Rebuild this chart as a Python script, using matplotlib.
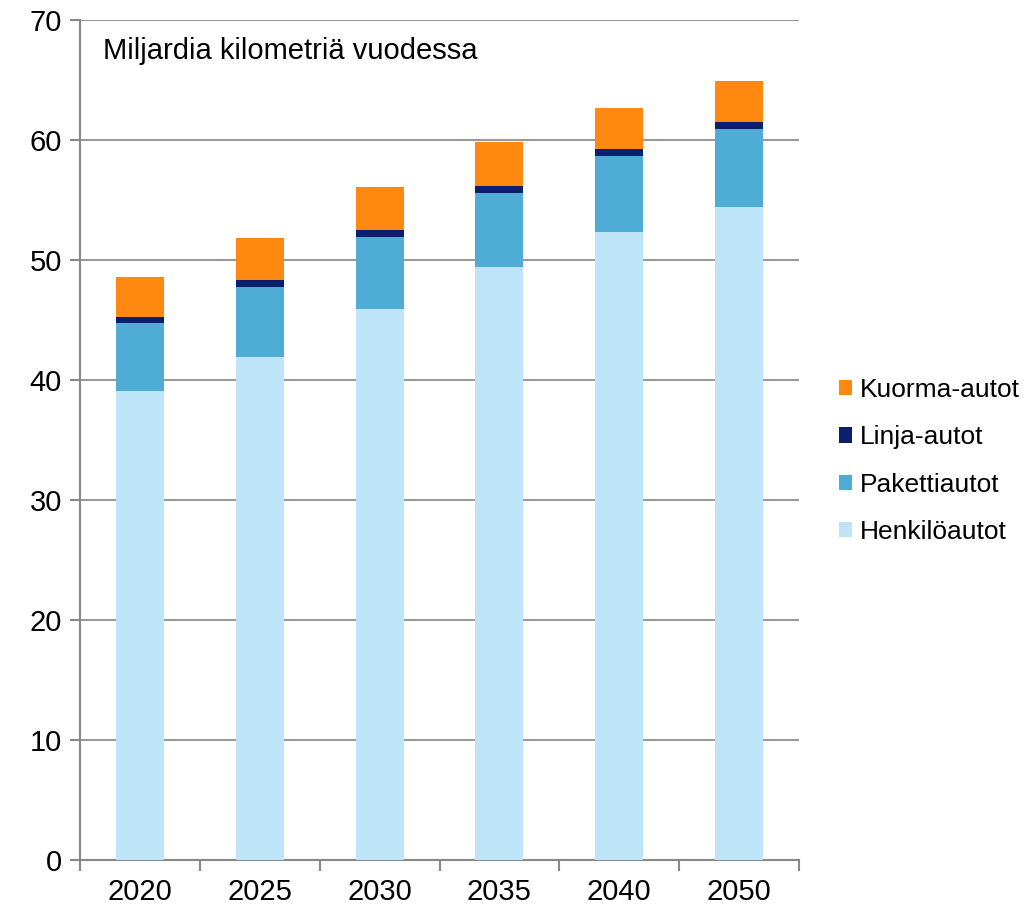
import numpy as np
import matplotlib.pyplot as plt

plt.rcParams['font.family'] = ['Liberation Sans', 'DejaVu Sans']

years = ['2020', '2025', '2030', '2035', '2040', '2050']
henkiloautot = [39.1, 41.9, 45.9, 49.4, 52.3, 54.4]
pakettiautot = [5.65, 5.85, 6.0, 6.2, 6.35, 6.5]
linja_autot = [0.5, 0.6, 0.6, 0.6, 0.6, 0.6]
kuorma_autot = [3.3, 3.5, 3.6, 3.6, 3.4, 3.45]

series = [
    ('Henkilöautot', henkiloautot, '#bde4f7'),
    ('Pakettiautot', pakettiautot, '#4facd4'),
    ('Linja-autot', linja_autot, '#0a1f6e'),
    ('Kuorma-autot', kuorma_autot, '#ff8811'),
]

fig = plt.figure(figsize=(10.36, 9.09), dpi=100)
ax = fig.add_axes([80/1036, 49/909, 719/1036, 840/909])

x = np.arange(len(years))
bottom = np.zeros(len(years))
handles = []
for name, vals, col in series:
    b = ax.bar(x, vals, 0.4, bottom=bottom, color=col, label=name, zorder=3)
    handles.append(b)
    bottom += np.array(vals)

ax.set_xlim(-0.5, 5.5)
ax.set_ylim(0, 70)
ax.set_yticks(range(0, 71, 10))
ax.yaxis.grid(True, color='#999999', linewidth=1.5, zorder=0)
ax.set_xticks(x)
ax.set_xticklabels(years)
ax.set_xticks(np.arange(-0.5, 6, 1), minor=True)
ax.tick_params(axis='x', which='major', length=0, pad=13, labelsize=21)
ax.tick_params(axis='x', which='minor', length=8, width=1.5, color='#888888')
ax.tick_params(axis='y', length=7, width=1.5, color='#888888', labelsize=21, pad=6)
for s in ['top', 'right']:
    ax.spines[s].set_visible(False)
for s in ['left', 'bottom']:
    ax.spines[s].set_color('#888888')
    ax.spines[s].set_linewidth(1.5)

ax.text(0.032, 0.963, 'Miljardia kilometriä vuodessa', transform=ax.transAxes,
        fontsize=21, va='center', ha='left')

fig.legend(handles[::-1], [s[0] for s in series][::-1], loc='center left',
           bbox_to_anchor=(815/1036, 1 - 461/909), frameon=False, fontsize=19,
           handlelength=0.5, handleheight=0.5, handletextpad=0.3, labelspacing=0.88)

fig.savefig('out.png', dpi=100)
